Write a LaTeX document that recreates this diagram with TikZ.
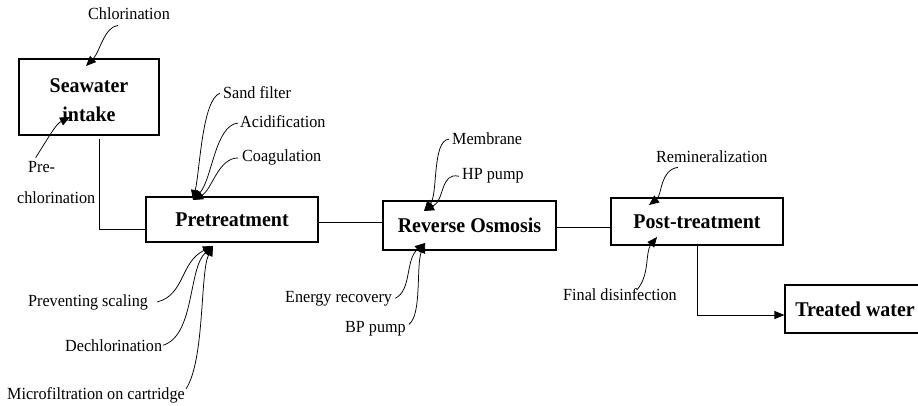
\documentclass[tikz,border=0pt]{standalone}
\usepackage{fontspec}
\setmainfont{Liberation Serif}[FakeStretch=0.95]
\usetikzlibrary{arrows.meta}
\begin{document}
\begin{tikzpicture}[x=1pt,y=-1pt,
  box/.style={draw, line width=1.1pt, inner sep=0pt, font=\fontsize{21}{28}\selectfont\bfseries, align=center},
  lbl/.style={inner sep=0pt, font=\fontsize{17}{20}\selectfont, anchor=base west},
  feed/.style={line width=0.75pt, -{Triangle[length=10pt,width=8.5pt]}},
  flow/.style={line width=1pt}]
\useasboundingbox (0,0) rectangle (918,405);
\clip (0,0) rectangle (918,405);

% main boxes
\node[box, minimum width=140pt, minimum height=76pt] (sw) at (89,97)
  {\raisebox{-4pt}[\height][\depth]{\begin{tabular}{@{}c@{}}Seawater\\[1pt]intake\end{tabular}}};
\node[box, minimum width=172pt, minimum height=45pt] (pre) at (232,219.5) {Pretreatment};
\node[box, minimum width=173pt, minimum height=49pt] (ro) at (469.5,225.5) {Reverse Osmosis};
\node[box, minimum width=172pt, minimum height=47pt] (post) at (697,221.5) {Post-treatment};
\node[box, minimum width=140pt, minimum height=48pt] (tw) at (855,309) {Treated water};

% main flow
\draw[flow] ([xshift=10pt,yshift=-3pt]sw.south) |- ([yshift=-9.5pt]pre.west);
\draw[flow] ([yshift=-2.5pt]pre.east) -- ([yshift=-2.5pt]pre.east -| ro.west);
\draw[flow] ([yshift=-1.5pt]ro.east) -- ([yshift=-1.5pt]ro.east -| post.west);
\draw[flow, -{Triangle[length=10pt,width=8pt]}] (post.south) |- ([yshift=-6pt]tw.west);

% labels
\node[lbl] (chl) at (88,19) {Chlorination};
\node[lbl] (pc1) at (28,172) {Pre-};
\node[lbl] (pc2) at (17,203) {chlorination};
\node[lbl] (sand) at (223,98) {Sand filter};
\node[lbl] (acid) at (240,127) {Acidification};
\node[lbl] (coag) at (242,161) {Coagulation};
\node[lbl] (prev) at (28,306) {Preventing scaling};
\node[lbl] (dech) at (65,351) {Dechlorination};
\node[lbl] (micro) at (7,399) {Microfiltration on cartridge};
\node[lbl] (memb) at (452,144) {Membrane};
\node[lbl] (hp) at (462,179) {HP pump};
\node[lbl] (energy) at (285,302) {Energy recovery};
\node[lbl] (bp) at (345,332) {BP pump};
\node[lbl] (remin) at (656,162) {Remineralization};
\node[lbl] (final) at (563,300) {Final disinfection};

% arrow tips on boxes
\coordinate (tsw1) at (86,66);
\coordinate (tsw2) at (70,117);
\coordinate (tpre1) at (193,200);
\coordinate (tpre2) at (213,246);
\coordinate (tro1) at (424,211);
\coordinate (tro2) at (425,243);
\coordinate (tpost1) at (649,205);
\coordinate (tpost2) at (657,237);

% feed arrows
\draw[feed] ([xshift=-11pt,yshift=-6pt]chl.south) .. controls (104,27) and (100,52) .. (tsw1);
\draw[feed] ([xshift=-6pt,yshift=3pt]pc1.north) .. controls (50,135) and (56,124) .. (tsw2);
\draw[feed] ([xshift=-3pt,yshift=-1pt]sand.west) .. controls (202,100) and (200,170) .. (tpre1);
\draw[feed] ([xshift=-2pt,yshift=-2pt]acid.west) .. controls (215,125) and (212,180) .. (tpre1);
\draw[feed] ([xshift=-4pt,yshift=-1pt]coag.west) .. controls (218,158) and (212,190) .. (tpre1);
\draw[feed] ([xshift=9pt]prev.east) .. controls (185,295) and (180,262) .. (tpre2);
\draw[feed] ([xshift=1pt]dech.east) .. controls (195,335) and (188,268) .. (tpre2);
\draw[feed] ([xshift=1pt,yshift=6pt]micro.east) .. controls (205,360) and (200,272) .. (tpre2);
\draw[feed] ([xshift=-3pt,yshift=-1pt]memb.west) .. controls (432,140) and (438,195) .. (tro1);
\draw[feed] ([xshift=-3pt,yshift=-1pt]hp.west) .. controls (440,172) and (445,200) .. (tro1);
\draw[feed] ([xshift=3pt]energy.east) .. controls (412,290) and (405,260) .. (tro2);
\draw[feed] ([xshift=3pt,yshift=4pt]bp.east) .. controls (422,315) and (416,265) .. (tro2);
\draw[feed] ([xshift=-34pt,yshift=-5pt]remin.south) .. controls (660,170) and (662,195) .. (tpost1);
\draw[feed] ([xshift=17pt,yshift=-2pt]final.north) .. controls (650,275) and (645,252) .. (tpost2);
\end{tikzpicture}
\end{document}
